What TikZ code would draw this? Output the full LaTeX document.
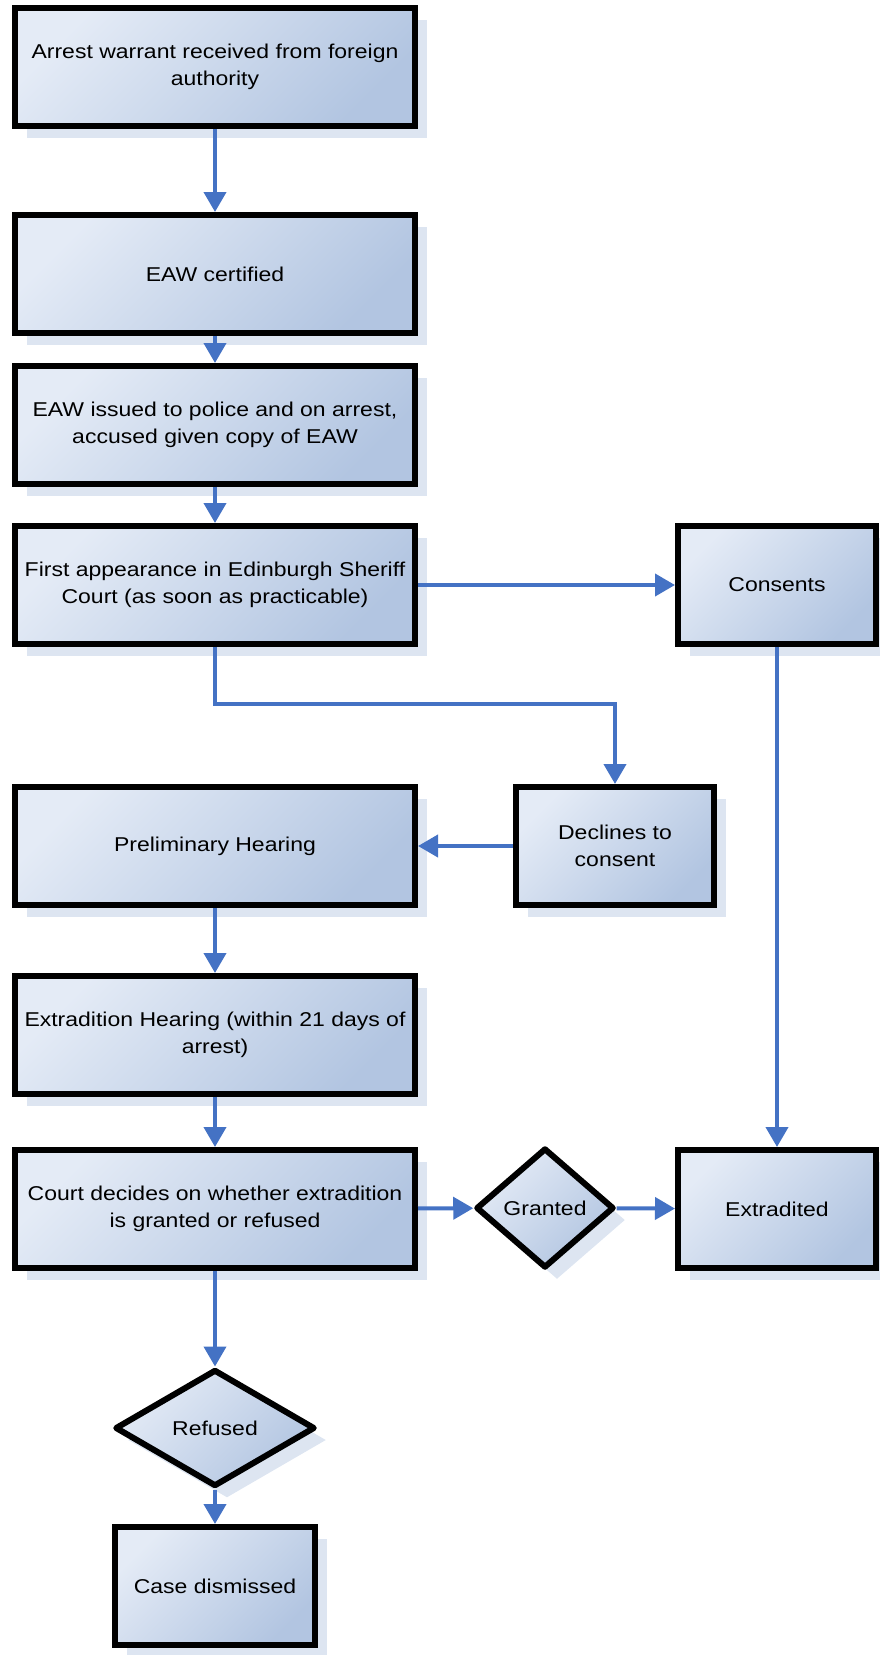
\documentclass[tikz,border=0pt]{standalone}
\usepackage{fontspec}
\setmainfont{Liberation Sans}[FakeStretch=1.15]
\usetikzlibrary{shapes.geometric,shadows,arrows.meta}
\definecolor{boxlight}{RGB}{228,235,246}
\definecolor{boxdark}{RGB}{178,197,225}
\definecolor{shadowblue}{RGB}{221,229,241}
\definecolor{flowblue}{RGB}{68,114,196}
\begin{document}
\begin{tikzpicture}[x=1pt,y=-1pt,
    stepbox/.style={rectangle, draw=black, line width=6pt,
      top color=boxlight, bottom color=boxdark, shading angle=45,
      drop shadow={shadow xshift=12pt, shadow yshift=-12pt, fill=shadowblue, opacity=1},
      font=\fontsize{20}{27}\selectfont, align=center, inner sep=0pt},
    wide/.style={stepbox, minimum width=400pt, minimum height=118pt},
    narrow/.style={stepbox, minimum width=198pt, minimum height=118pt},
    choice/.style={stepbox, diamond, line join=round},
    flow/.style={draw=flowblue, line width=4pt, -{Triangle[length=20pt,width=22pt]}}]
      \useasboundingbox (0,0) rectangle (880,1655);
      \draw
        (215,67) node[wide] (0) {Arrest warrant received from foreign\\authority}
        (215,274) node[wide] (1) {EAW certified}
        (215,425) node[wide] (2) {EAW issued to police and on arrest,\\accused given copy of EAW}
        (215,585) node[wide] (3) {First appearance in Edinburgh Sheriff\\Court (as soon as practicable)}
        (777,585) node[narrow] (4) {Consents}
        (615,846) node[narrow] (5) {Declines to\\consent}
        (215,846) node[wide] (6) {Preliminary Hearing}
        (215,1035) node[wide] (7) {Extradition Hearing (within 21 days of\\arrest)}
        (215,1209) node[wide] (8) {Court decides on whether extradition\\is granted or refused}
        (545,1208) node[choice, minimum width=138pt, minimum height=120pt] (9) {Granted}
        (777,1209) node[narrow] (10) {Extradited}
        (215,1428) node[choice, minimum width=200pt, minimum height=117pt] (11) {Refused}
        (215,1586) node[narrow, minimum width=200pt] (12) {Case dismissed};
      \begin{scope}[flow]
        \draw (0) to (1);
        \draw (1) to (2);
        \draw (2) to (3);
        \draw (3) to (4);
        \draw (3.south) -- ++(0,57) -| (5.north);
        \draw (5) to (6);
        \draw (4) to (10);
        \draw (6) to (7);
        \draw (7) to (8);
        \draw (8) to (9);
        \draw (9) to (10);
        \draw (8) to (11);
        \draw (11) to (12);
      \end{scope}
    \end{tikzpicture}
\end{document}
